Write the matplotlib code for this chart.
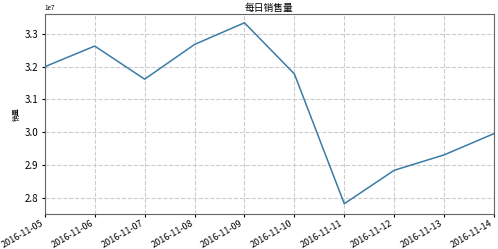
import matplotlib
matplotlib.use("Agg")
import matplotlib.pyplot as plt
import matplotlib.dates as mdates
import pandas as pd

plt.rcParams['font.family'] = ['Noto Sans CJK SC', 'DejaVu Sans']
plt.rcParams['axes.unicode_minus'] = False

dates = ["2016-11-05", "2016-11-06", "2016-11-07", "2016-11-08", "2016-11-09",
         "2016-11-10", "2016-11-11", "2016-11-12", "2016-11-13", "2016-11-14"]
sales = [3.200e7, 3.263e7, 3.162e7, 3.268e7, 3.334e7,
         3.178e7, 2.782e7, 2.884e7, 2.931e7, 2.996e7]

x = pd.to_datetime(dates)

fig = plt.figure(figsize=(4.98, 2.49), dpi=100)
ax = fig.add_axes([0.090, 0.141, 0.902, 0.803])
ax.plot(x, sales, color='#3a7ca5', linewidth=1.1)
ax.set_xlim(x[0], x[-1])
ax.set_ylim(2.751e7, 3.361e7)
ax.set_title("每日销售量", fontsize=7, pad=2)
ax.set_ylabel("销量", fontsize=5, labelpad=3)
ax.grid(True, linestyle='--', color='#cccccc', linewidth=0.8)
ax.xaxis.set_major_locator(mdates.DayLocator())
ax.xaxis.set_major_formatter(mdates.DateFormatter('%Y-%m-%d'))
for lab in ax.get_xticklabels():
    lab.set_rotation(30)
    lab.set_ha('right')
ax.tick_params(axis='x', labelsize=6.5, length=2.5, pad=1)
ax.tick_params(axis='y', labelsize=7, length=2.5, pad=2)
ax.yaxis.get_offset_text().set_fontsize(4.5)
for s in ax.spines.values():
    s.set_color('#666666')
fig.savefig("out.png", dpi=100)
